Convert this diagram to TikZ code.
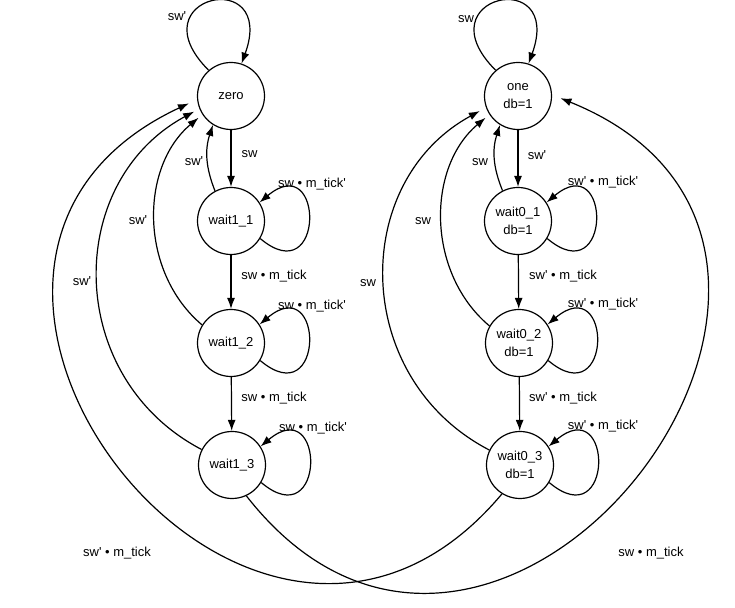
\documentclass[tikz,border=0pt]{standalone}
\usepackage{fontspec}
\setmainfont{Liberation Sans}
\usetikzlibrary{arrows.meta}

\begin{document}
\begin{tikzpicture}[x=1pt,y=1pt,
  state/.style={draw, circle, line width=1.2pt, minimum size=67pt, inner sep=0pt,
    align=center, font=\fontsize{13}{18}\selectfont},
  lbl/.style={inner sep=0pt, text height=9pt, text depth=3pt, font=\fontsize{13}{15}\selectfont},
  tr/.style={-{Latex[length=11pt,width=8pt]}, line width=1.2pt}]
  \useasboundingbox (0,0) rectangle (735,607);
  % states
  \node[state] (zero) at (231,511) {zero};
  \node[state] (w11) at (231,386) {wait1\_1};
  \node[state] (w12) at (231,264) {wait1\_2};
  \node[state] (w13) at (232,142) {wait1\_3};
  \node[state] (one) at (518,511) {one\\db=1};
  \node[state] (w01) at (518,386) {wait0\_1\\db=1};
  \node[state] (w02) at (519,264) {wait0\_2\\db=1};
  \node[state] (w03) at (520,142) {wait0\_3\\db=1};

  % self loops
  \draw[tr] (zero.131) to[out=135, in=70, looseness=8] (zero.72);
  \draw[tr] (one.131) to[out=135, in=70, looseness=8] (one.72);
  \draw[tr] (w11.-31) to[out=-40, in=40, looseness=6] (w11.33);
  \draw[tr] (w12.-31) to[out=-40, in=40, looseness=6] (w12.33);
  \draw[tr] (w13.-31) to[out=-40, in=40, looseness=6] (w13.33);
  \draw[tr] (w01.-31) to[out=-40, in=40, looseness=6] (w01.33);
  \draw[tr] (w02.-31) to[out=-40, in=40, looseness=6] (w02.33);
  \draw[tr] (w03.-31) to[out=-40, in=40, looseness=6] (w03.33);

  % down the columns
  \draw[tr] (zero) -- (w11);
  \draw[tr] (w11) -- (w12);
  \draw[tr] (w12) -- (w13);
  \draw[tr] (one) -- (w01);
  \draw[tr] (w01) -- (w02);
  \draw[tr] (w02) -- (w03);

  % back up to zero
  \draw[tr] (w11.118) to[bend left=20] (zero.238);
  \draw[tr, shorten >=5pt] (w12.148) to[bend left=50] (zero.213);
  \draw[tr, shorten >=6pt] (w13.153) to[bend left=62, looseness=1.16] (zero.202);
  \draw[tr, shorten >=9pt] (w03.238) to[out=-130, in=205, looseness=2.0] (zero.186);
  % back up to one
  \draw[tr] (w01.117) to[bend left=20] (one.238);
  \draw[tr, shorten >=5pt] (w02.150) to[bend left=50] (one.213);
  \draw[tr, shorten >=7pt] (w03.154) to[bend left=62, looseness=1.16] (one.200);
  \draw[tr, shorten >=9pt] (w13.295) to[out=-52, in=-22, looseness=2.08] (one.2);

  % labels
  \node[lbl] (lzero) at (177,589) {sw\textquotesingle};
  \node[lbl] (lone) at (466,587) {sw};
  \node[lbl] (lz1) at (249.5,452) {sw};
  \node[lbl] (l1z) at (194,444) {sw\textquotesingle};
  \node[lbl] (l12) at (274,330) {sw • m\_tick};
  \node[lbl] (l23) at (274,208) {sw • m\_tick};
  \node[lbl] (l2z) at (138,385) {sw\textquotesingle};
  \node[lbl] (l3z) at (82,324) {sw\textquotesingle};
  \node[lbl] (ll1) at (312,422) {sw • m\_tick\textquotesingle};
  \node[lbl] (ll2) at (312,300) {sw • m\_tick\textquotesingle};
  \node[lbl] (ll3) at (313,178) {sw • m\_tick\textquotesingle};
  \node[lbl] (lo1) at (537,450) {sw\textquotesingle};
  \node[lbl] (l1o) at (480,444) {sw};
  \node[lbl] (l01) at (563,330) {sw\textquotesingle{} • m\_tick};
  \node[lbl] (l02) at (563,208) {sw\textquotesingle{} • m\_tick};
  \node[lbl] (l2o) at (423,385) {sw};
  \node[lbl] (l3o) at (368,323) {sw};
  \node[lbl] (lr1) at (603,424) {sw\textquotesingle{} • m\_tick\textquotesingle};
  \node[lbl] (lr2) at (603,302) {sw\textquotesingle{} • m\_tick\textquotesingle};
  \node[lbl] (lr3) at (603,180) {sw\textquotesingle{} • m\_tick\textquotesingle};
  \node[lbl] (lbl0) at (117,54) {sw\textquotesingle{} • m\_tick};
  \node[lbl] (lbl1) at (651,54) {sw • m\_tick};
\end{tikzpicture}
\end{document}
